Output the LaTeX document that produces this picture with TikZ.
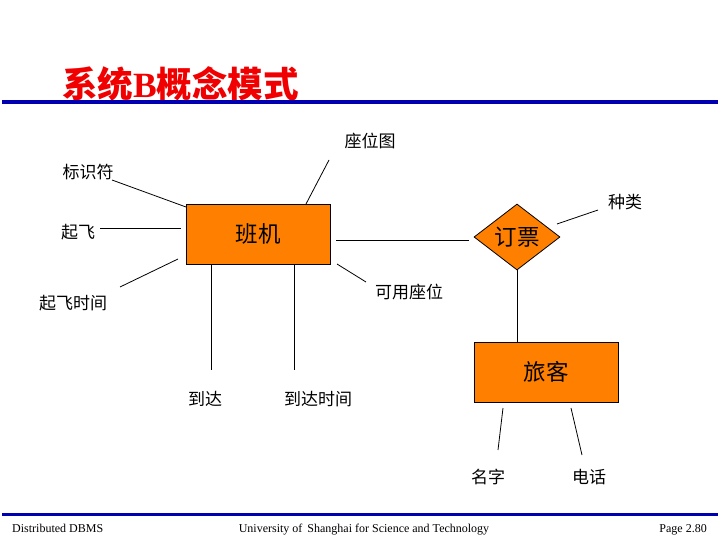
\documentclass[tikz,border=0pt]{standalone}
\usepackage{fontspec}
\setmainfont{Liberation Serif}
\newfontfamily\cjk{Noto Sans CJK SC}
\usetikzlibrary{shapes.geometric}
\definecolor{ordorange}{HTML}{FF8000}
\definecolor{barblue}{HTML}{0000B0}
\definecolor{titlered}{HTML}{F00000}
\tikzset{
  entity/.style={draw=black, line width=0.8pt, fill=ordorange, minimum width=144pt, minimum height=60pt, inner sep=0pt, font=\cjk\fontsize{22.5}{22.5}\selectfont},
  relation/.style={draw=black, line width=0.8pt, fill=ordorange, diamond, minimum width=86pt, minimum height=66pt, inner sep=0pt, font=\cjk\fontsize{22.5}{22.5}\selectfont},
  attr/.style={inner sep=0pt, font=\cjk\fontsize{17}{17}\selectfont},
  conn/.style={draw=black, line width=0.8pt},
  foot/.style={inner sep=0pt, font=\fontsize{12}{12}\selectfont}
}
\begin{document}
\begin{tikzpicture}[x=1pt,y=-1pt]
\useasboundingbox (0,0) rectangle (720,540);
\fill[white] (0,0) rectangle (720,540);
% title and bars
\node[inner sep=0pt, anchor=base west, text=titlered] (title) at (62,98) {\cjk\bfseries\fontsize{35.5}{35.5}\selectfont 系统{\rmfamily\bfseries B}概念模式};
\fill[barblue] (2,100.5) rectangle (718,104.5);
\fill[barblue] (2,513) rectangle (718,516);
\node[foot, anchor=base west] (f1) at (12,532) {Distributed DBMS};
\node[foot, anchor=base] (f2) at (364,532) {University of\, Shanghai for Science and Technology};
\node[foot, anchor=base east] (f3) at (707,532) {Page 2.80};
% entities
\node[entity] (flight) at (258,234) {班机};
\node[relation] (book) at (517,237) {订票};
\node[entity] (pass) at (546,372) {旅客};
% attributes
\node[attr] (seatmap) at (370,141) {座位图};
\node[attr] (ident) at (88,172) {标识符};
\node[attr] (kind) at (625,202) {种类};
\node[attr] (dep) at (78,232) {起飞};
\node[attr] (avail) at (409,292) {可用座位};
\node[attr] (deptime) at (73,303) {起飞时间};
\node[attr] (arr) at (205,399) {到达};
\node[attr] (arrtime) at (318,399) {到达时间};
\node[attr] (name) at (488,477) {名字};
\node[attr] (phone) at (589,477) {电话};
% connector endpoints
\coordinate (c1a) at (329,160); \coordinate (c1b) at (306,204);
\coordinate (c2a) at (112,180); \coordinate (c2b) at (186,207);
\coordinate (c3a) at (100,228); \coordinate (c3b) at (181,228);
\coordinate (c4a) at (120,287); \coordinate (c4b) at (178,259);
\coordinate (c5a) at (211,264); \coordinate (c5b) at (211,370);
\coordinate (c6a) at (294,264); \coordinate (c6b) at (294,370);
\coordinate (c7a) at (337,264); \coordinate (c7b) at (366,282);
\coordinate (c8a) at (336,240); \coordinate (c8b) at (469,240);
\coordinate (c9a) at (598,210); \coordinate (c9b) at (557,224);
\coordinate (c10a) at (503,408); \coordinate (c10b) at (498,450);
\coordinate (c11a) at (571,408); \coordinate (c11b) at (582,455);
\draw[conn] (c1a) -- (c1b);
\draw[conn] (c2a) -- (c2b);
\draw[conn] (c3a) -- (c3b);
\draw[conn] (c4a) -- (c4b);
\draw[conn] (c5a) -- (c5b);
\draw[conn] (c6a) -- (c6b);
\draw[conn] (c7a) -- (c7b);
\draw[conn] (c8a) -- (c8b);
\draw[conn] (c9a) -- (c9b);
\draw[conn] (book.south) -- (pass.north -| book.south);
\draw[conn] (c10a) -- (c10b);
\draw[conn] (c11a) -- (c11b);
\end{tikzpicture}
\end{document}
